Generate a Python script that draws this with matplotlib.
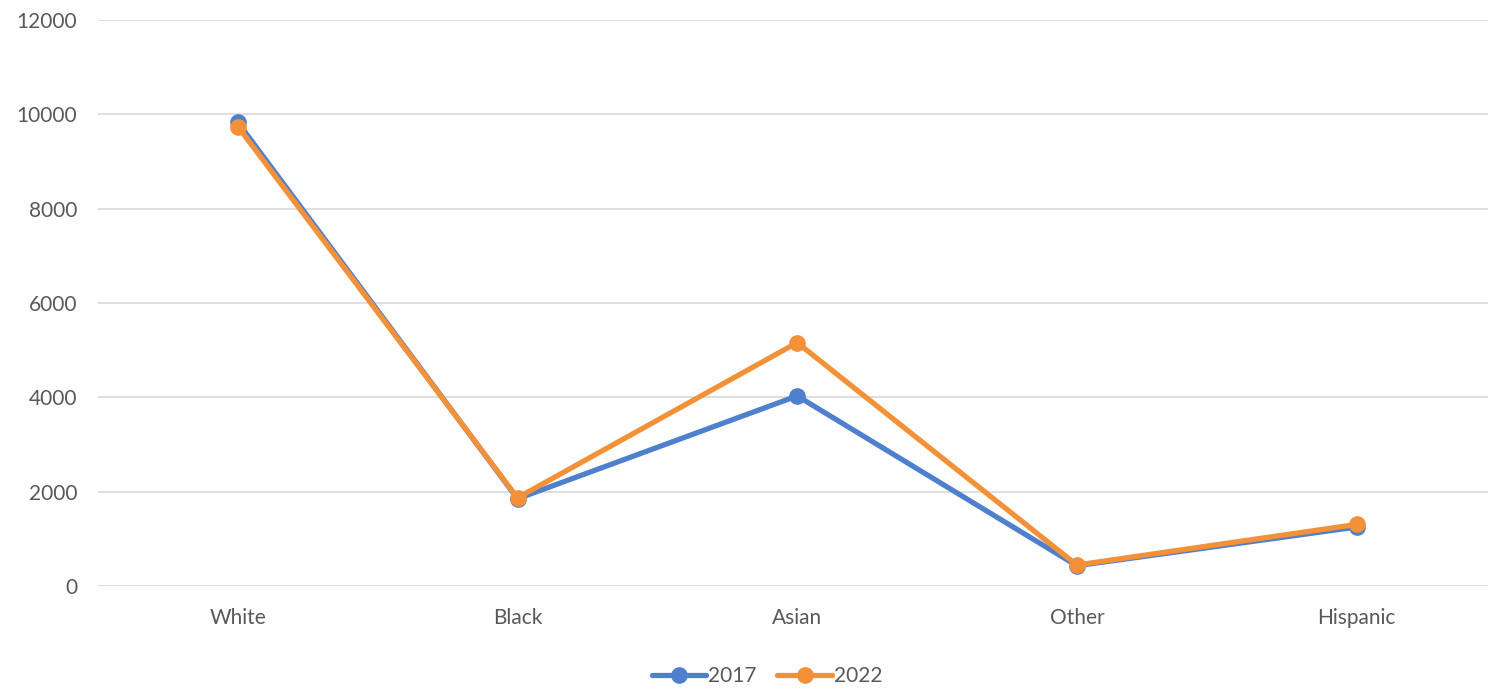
import matplotlib
matplotlib.use("Agg")
import matplotlib.pyplot as plt

categories = ["White", "Black", "Asian", "Other", "Hispanic"]
series_2017 = [9830, 1850, 4030, 430, 1250]
series_2022 = [9740, 1870, 5160, 445, 1305]
yticks = [0, 2000, 4000, 6000, 8000, 10000, 12000]

plt.rcParams['font.family'] = ['Lato', 'DejaVu Sans']

fig = plt.figure(figsize=(14.88, 6.89), dpi=100)
ax = fig.add_axes([98/1488, 103/689, 1 - 98/1488, 566/689])

x = list(range(len(categories)))
ax.plot(x, series_2017, color="#4E80CD", lw=3.8, marker="o", ms=11, label="2017", solid_capstyle="round")
ax.plot(x, series_2022, color="#F39139", lw=3.8, marker="o", ms=11, label="2022", solid_capstyle="round")

ax.set_ylim(0, 12000)
ax.set_xlim(-0.5, 4.47)
ax.set_yticks(yticks)
ax.set_xticks(x)
ax.set_xticklabels(categories)
ax.grid(axis="y", color="#D9D9D9", lw=1.2)
ax.set_axisbelow(True)
for s in ax.spines.values():
    s.set_visible(False)
ax.tick_params(axis="both", length=0, labelsize=15, colors="#595959")
ax.tick_params(axis="x", pad=16)
ax.tick_params(axis="y", pad=15)

leg = ax.legend(loc="center", bbox_to_anchor=((767-98)/1390, (689-676-103)/566), ncol=2, frameon=False,
                fontsize=15, handlelength=2.6, handletextpad=0.1, columnspacing=1.0,
                borderaxespad=0)
for t in leg.get_texts():
    t.set_color("#595959")

fig.savefig("out.png", dpi=100)
